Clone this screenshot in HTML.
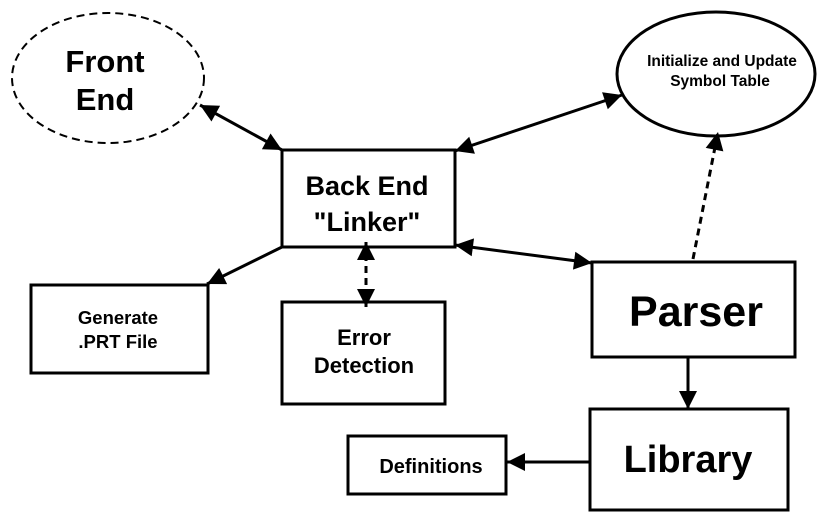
<!DOCTYPE html>
<html><head><style>body{margin:0;background:#fff}svg{display:block}text{font-family:"Liberation Sans",Arial,sans-serif;font-weight:bold;fill:#000;text-anchor:middle}</style></head>
<body>
<svg width="828" height="523" viewBox="0 0 828 523" xmlns="http://www.w3.org/2000/svg">
<defs>
<marker id="h" viewBox="0 0 10 10" refX="10" refY="5" markerWidth="22" markerHeight="18" markerUnits="userSpaceOnUse" orient="auto-start-reverse"><path d="M0,0L10,5L0,10z"/></marker>
</defs>
<g fill="none" stroke="#000" stroke-width="3">
<ellipse cx="108" cy="78" rx="96" ry="65" stroke-width="2" stroke-dasharray="8,5"/>
<ellipse cx="716" cy="74" rx="99" ry="62"/>
<rect x="282" y="150" width="173" height="97"/>
<rect x="31" y="285" width="177" height="88"/>
<rect x="282" y="302" width="163" height="102"/>
<rect x="592" y="262" width="203" height="95"/>
<rect x="590" y="409" width="198" height="101"/>
<rect x="348" y="436" width="158" height="58"/>
<line x1="200" y1="105" x2="282" y2="150" marker-start="url(#h)" marker-end="url(#h)"/>
<line x1="455" y1="151" x2="622" y2="95" marker-start="url(#h)" marker-end="url(#h)"/>
<line x1="455" y1="245" x2="592" y2="263" marker-start="url(#h)" marker-end="url(#h)"/>
<line x1="282" y1="247" x2="207" y2="284" marker-end="url(#h)"/>
<line x1="366" y1="242" x2="366" y2="307" stroke-dasharray="7,5" marker-start="url(#h)" marker-end="url(#h)"/>
<line x1="693" y1="259" x2="718" y2="132" stroke-dasharray="7,5" marker-end="url(#h)"/>
<line x1="688" y1="357" x2="688" y2="409" marker-end="url(#h)"/>
<line x1="590" y1="462" x2="507" y2="462" marker-end="url(#h)"/>
</g>
<text x="105" y="72" font-size="31">Front</text>
<text x="105" y="110" font-size="31">End</text>
<text x="367" y="195" font-size="27">Back End</text>
<text x="367" y="231" font-size="27">"Linker"</text>
<text x="722" y="66" font-size="15.5">Initialize and Update</text>
<text x="720" y="86" font-size="15.5">Symbol Table</text>
<text x="118" y="324" font-size="18.5">Generate</text>
<text x="118" y="348" font-size="18.5">.PRT File</text>
<text x="364" y="345" font-size="22">Error</text>
<text x="364" y="373" font-size="22">Detection</text>
<text x="696" y="326" font-size="43">Parser</text>
<text x="688" y="472" font-size="38">Library</text>
<text x="431" y="473" font-size="20">Definitions</text>
</svg>
</body></html>
